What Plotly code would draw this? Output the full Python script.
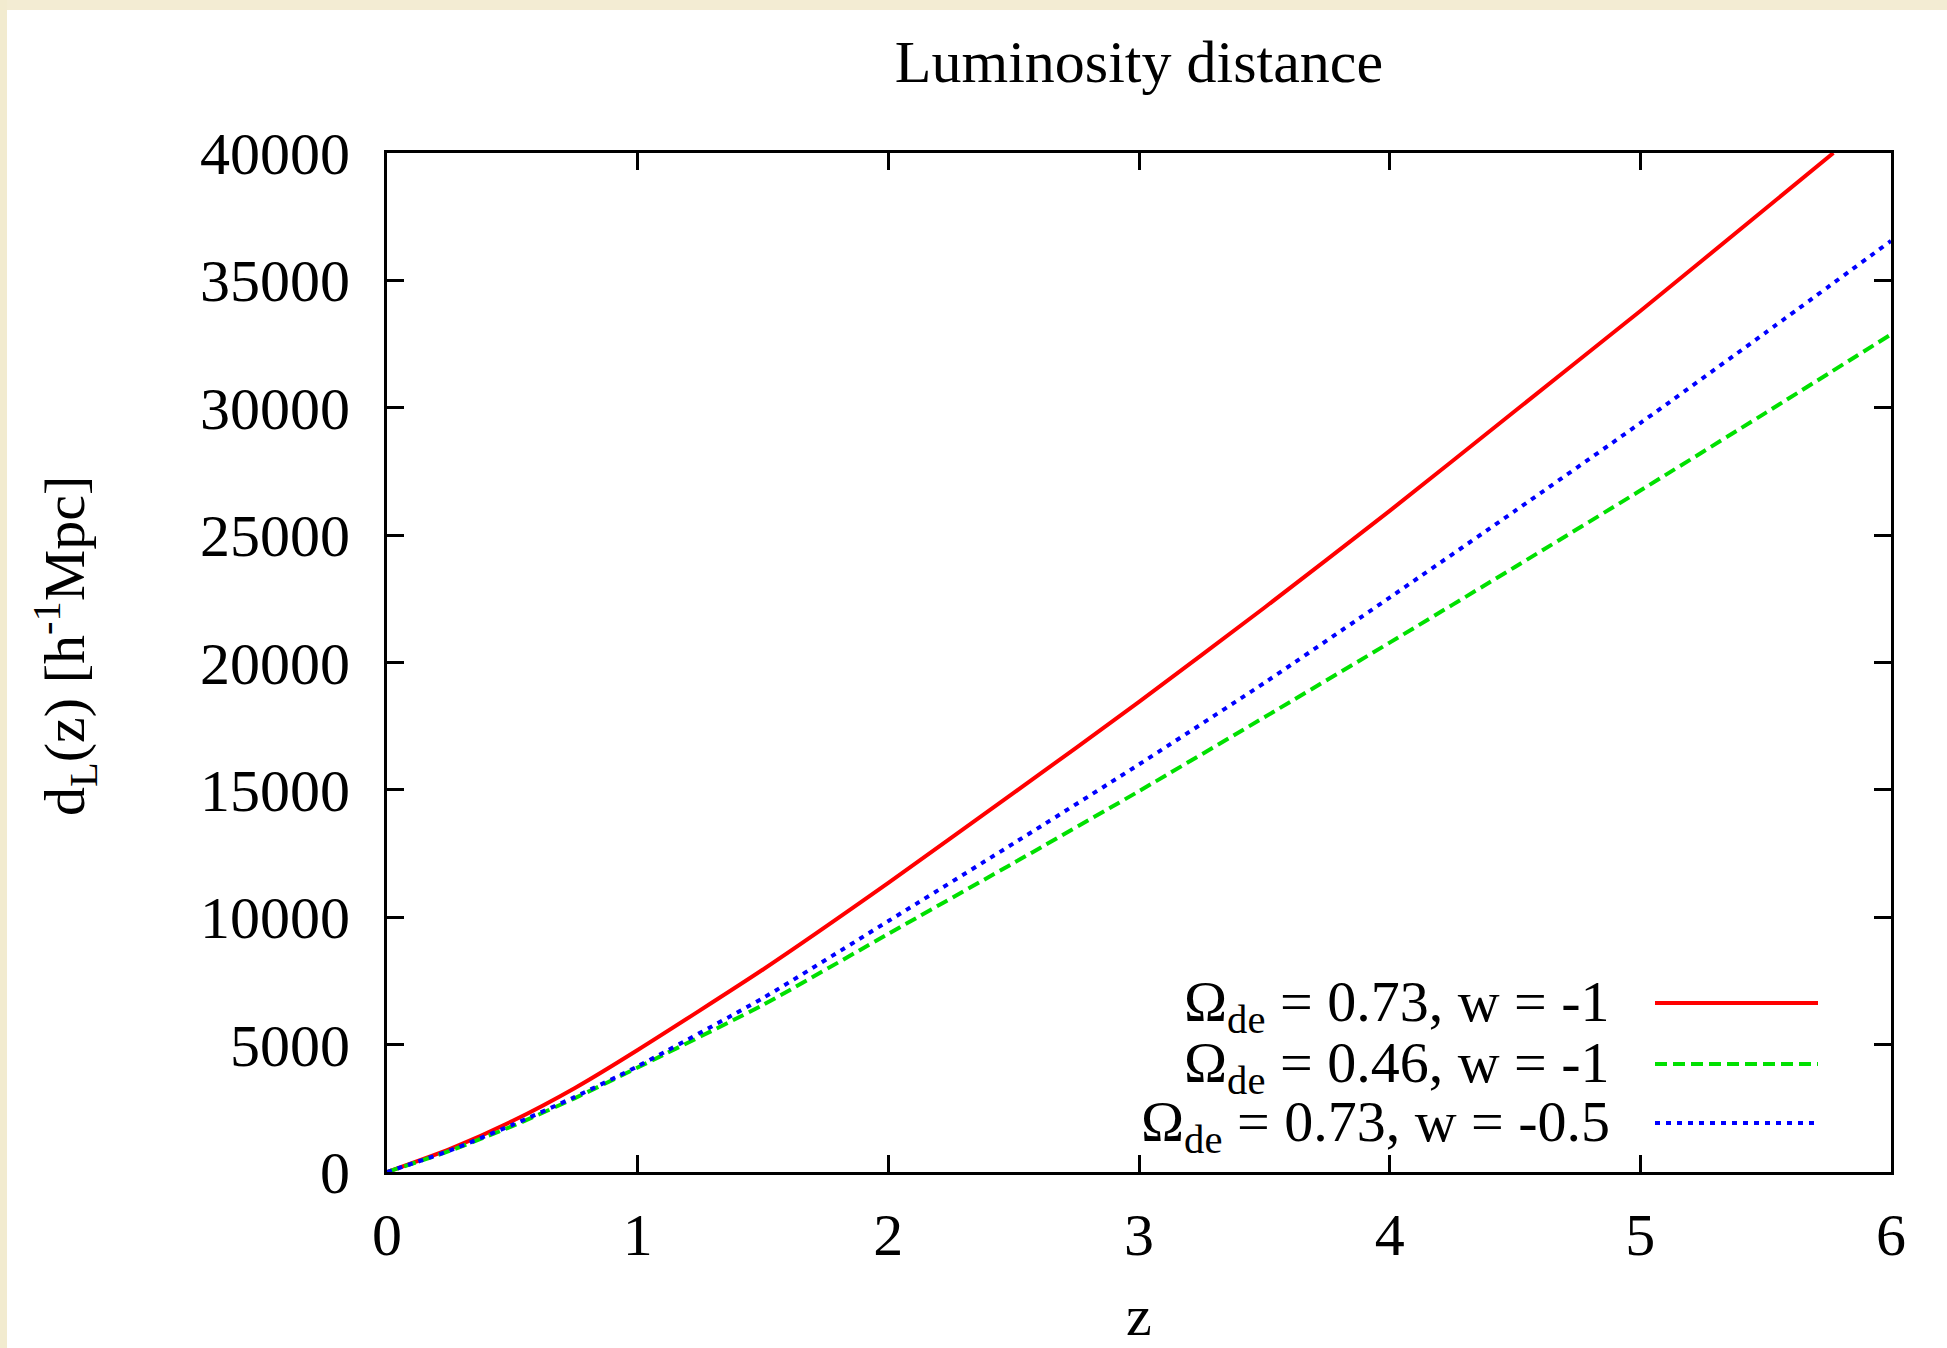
import plotly.graph_objects as go

# redshift samples
z = [0, 0.25, 0.5, 0.75, 1.0, 1.5, 2.0, 2.5, 3.0, 3.5, 4.0, 4.5, 5.0, 5.5, 6.0]
z_red = [0, 0.25, 0.5, 0.75, 1.0, 1.5, 2.0, 2.5, 3.0, 3.5, 4.0, 4.5, 5.0, 5.5, 5.77]

# luminosity distance [h^-1 Mpc]
dl_073_w1 = [0, 900, 2000, 3300, 4790, 7950, 11350, 14880, 18450, 22150, 25950, 29870, 33800, 37820, 40000]
dl_046_w1 = [0, 830, 1800, 2900, 4100, 6560, 9350, 12130, 14950, 17850, 20780, 23750, 26750, 29800, 32880]
dl_073_w05 = [0, 840, 1850, 2950, 4150, 6830, 9850, 12900, 16000, 19200, 22550, 25950, 29400, 32950, 36550]

labels = ["Ω<sub>de</sub> = 0.73, w = -1",
          "Ω<sub>de</sub> = 0.46, w = -1",
          "Ω<sub>de</sub> = 0.73, w = -0.5"]
colors = ["#FF0000", "#00E000", "#0000FF"]
dashes = ["solid", "12px,6px", "5px,6px"]

x_ticks = [0, 1, 2, 3, 4, 5, 6]
y_ticks = [0, 5000, 10000, 15000, 20000, 25000, 30000, 35000, 40000]

FONT = "Liberation Serif, Times New Roman, serif"

fig = go.Figure()
series = [(z_red, dl_073_w1), (z, dl_046_w1), (z, dl_073_w05)]
for (xs, ys), name, c, d in zip(series, labels, colors, dashes):
    fig.add_trace(go.Scatter(x=xs, y=ys, mode="lines", name=name,
                             line=dict(color=c, width=4, dash=d, shape="spline", smoothing=0.6),
                             showlegend=False))

W, H = 1947, 1348
L, R, T, B = 387, 56, 153, 176
pw, ph = W - L - R, H - T - B

def px(xp):
    return (xp - L) / pw

def py(yp):
    return (H - B - yp) / ph

axis_common = dict(showline=True, linecolor="black", linewidth=3, mirror="ticks",
                   ticks="inside", ticklen=17, tickwidth=3, tickcolor="black",
                   showgrid=False, zeroline=False,
                   tickfont=dict(family=FONT, size=60, color="black"))

fig.update_xaxes(range=[0, 6], tickvals=x_ticks, ticktext=[str(v) for v in x_ticks],
                 ticklabelstandoff=8, **axis_common)
fig.update_yaxes(range=[0, 40000], tickvals=y_ticks, ticktext=[str(v) for v in y_ticks],
                 ticklabelstandoff=22, **axis_common)

annotations = [
    dict(text="z", x=0.5, y=py(1315), xref="paper", yref="paper", showarrow=False,
         font=dict(family=FONT, size=58, color="black"), xanchor="center", yanchor="middle"),
    dict(text="d<sub>L</sub>(z) [h<sup>-1</sup>Mpc]", x=px(65), y=py(646), xref="paper", yref="paper",
         showarrow=False, textangle=-90, font=dict(family=FONT, size=58, color="black"),
         xanchor="center", yanchor="middle"),
]
legend_rows = [1003, 1064, 1123]
shapes = [
    dict(type="rect", xref="paper", yref="paper", x0=px(0), x1=px(W), y0=py(10), y1=py(0),
         fillcolor="#F3ECD3", line=dict(width=0), layer="below"),
    dict(type="rect", xref="paper", yref="paper", x0=px(0), x1=px(7), y0=py(H), y1=py(0),
         fillcolor="#F2EBCF", line=dict(width=0), layer="below"),
]
for row, name, c, d in zip(legend_rows, labels, colors, dashes):
    annotations.append(dict(text=name, x=px(1612), y=py(row), xref="paper", yref="paper",
                            showarrow=False, xanchor="right", yanchor="middle", yshift=-2,
                            font=dict(family=FONT, size=58, color="black")))
    shapes.append(dict(type="line", xref="paper", yref="paper", x0=px(1655), x1=px(1818),
                       y0=py(row), y1=py(row), line=dict(color=c, width=4, dash=d)))

fig.update_layout(
    width=W, height=H,
    margin=dict(l=L, r=R, t=T, b=B, pad=0),
    paper_bgcolor="white", plot_bgcolor="white",
    title=dict(text="Luminosity distance", x=px(1139), xref="paper", y=1 - 61 / H,
               yref="container", xanchor="center", yanchor="middle",
               font=dict(family=FONT, size=60, color="black")),
    annotations=annotations, shapes=shapes,
)

fig.write_html("out.html")
